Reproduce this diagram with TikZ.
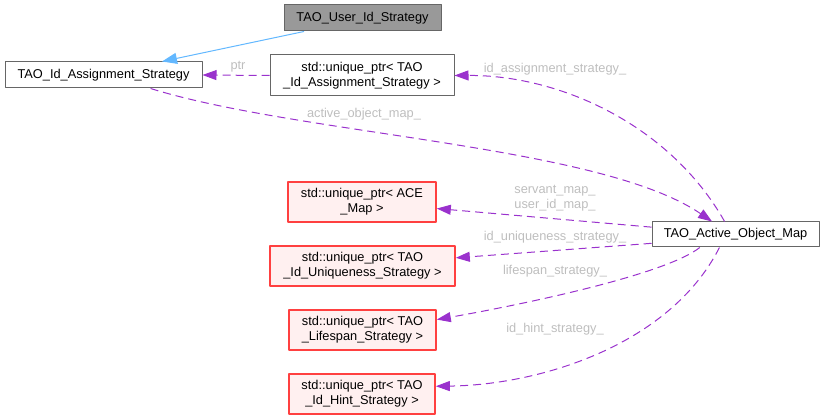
\documentclass[tikz,border=0pt]{standalone}
\usepackage{fontspec}
\setmainfont{Liberation Sans}
\usetikzlibrary{arrows.meta}
\definecolor{edgeviolet}{HTML}{9A32CD}
\definecolor{inheritblue}{HTML}{63B8FF}
\definecolor{labelgray}{HTML}{BEBEBE}
\definecolor{boxgray}{HTML}{666666}
\definecolor{boxfill}{HTML}{999999}
\definecolor{redfill}{HTML}{FFF0F0}
\definecolor{redline}{HTML}{FF4040}
\begin{document}
\begin{tikzpicture}[x=1pt, y=-1pt, font=\fontsize{12.8}{15}\selectfont, line join=round, >={Triangle[length=14pt,width=10pt]},
	cls/.style={draw=boxgray, line width=1pt, fill=white, inner sep=0pt, align=center},
	ext/.style={draw=redline, line width=1.6pt, fill=redfill, inner sep=0pt, align=center},
	member/.style={edgeviolet, line width=1pt, dash pattern=on 8pt off 5pt, ->},
	lbl/.style={text=labelgray, inner sep=0pt, align=center}]
	\useasboundingbox (0,0) rectangle (824,419);
	% classes
	\node[cls, fill=boxfill, minimum width=157, minimum height=26] (user) at (362.5,18) {TAO\_User\_Id\_Strategy};
	\node[cls, minimum width=197, minimum height=26] (ias) at (103.5,75) {TAO\_Id\_Assignment\_Strategy};
	\node[cls, minimum width=184, minimum height=41] (upias) at (362,75.5) {std::unique\_ptr< TAO\\\_Id\_Assignment\_Strategy >};
	\node[cls, minimum width=167, minimum height=25] (aom) at (735.5,234.5) {TAO\_Active\_Object\_Map};
	\node[ext, minimum width=148, minimum height=40] (upmap) at (362,202) {std::unique\_ptr< ACE\\\_Map >};
	\node[ext, minimum width=185, minimum height=40] (upuniq) at (362.5,266) {std::unique\_ptr< TAO\\\_Id\_Uniqueness\_Strategy >};
	\node[ext, minimum width=147, minimum height=40] (uplife) at (362.5,330) {std::unique\_ptr< TAO\\\_Lifespan\_Strategy >};
	\node[ext, minimum width=146, minimum height=40] (uphint) at (362,394) {std::unique\_ptr< TAO\\\_Id\_Hint\_Strategy >};
	% inheritance
	\draw[inheritblue, line width=1pt, -{Triangle[length=15pt,width=11pt]}] (user.193) -- (ias.13);
	% members
	\draw[member] (upias.west) -- (ias.east);
	\draw[member] (aom.130) .. controls (670,125) and (560,75) .. (upias.east);
	\draw[member] (ias.344) .. controls (300,135) and (600,145) .. (aom.151);
	\draw[member] (aom.175) -- (upmap.355);
	\draw[member] (aom.186) -- (upuniq.5);
	\draw[member] (aom.200) .. controls (665,275) and (520,305) .. (uplife.8.5);
	\draw[member] (aom.219) .. controls (670,345) and (540,385) .. (uphint.6.3);
	% labels
	\node[lbl] (lptr) at (238,67) {ptr};
	\node[lbl] (lias) at (555,69) {id\_assignment\_strategy\_};
	\node[lbl] (laom) at (364,114) {active\_object\_map\_};
	\node[lbl, text depth=0pt] (lmap) at (555,197) {servant\_map\_\\user\_id\_map\_};
	\node[lbl] (luniq) at (555,237) {id\_uniqueness\_strategy\_};
	\node[lbl] (llife) at (555,271) {lifespan\_strategy\_};
	\node[lbl] (lhint) at (555,329.5) {id\_hint\_strategy\_};
\end{tikzpicture}
\end{document}
